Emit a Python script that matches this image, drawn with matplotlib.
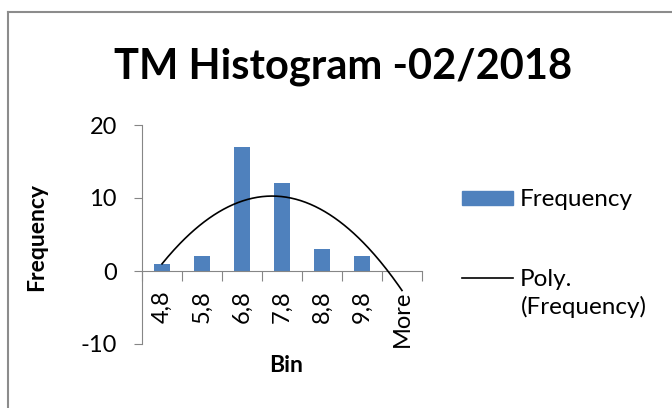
import matplotlib
matplotlib.use("Agg")
import matplotlib.pyplot as plt
from matplotlib.lines import Line2D
from matplotlib.patches import Patch
import numpy as np

plt.rcParams["font.family"] = ["Lato", "DejaVu Sans"]
plt.rcParams["axes.unicode_minus"] = False  # plain hyphen like Excel

bins = ["4,8", "5,8", "6,8", "7,8", "8,8", "9,8", "More"]
frequency = [1, 2, 17, 12, 3, 2, 0]

x = np.arange(1, len(bins) + 1)

fig = plt.figure(figsize=(6.72, 4.08), dpi=100)
ax = fig.add_axes([142 / 672, 1 - 344 / 408, 280 / 672, 219 / 408])

ax.bar(x, frequency, width=0.4, color="#4F81BD", zorder=2)

# Excel style order-2 polynomial trendline
coef = np.polyfit(x, frequency, 2)
xs = np.linspace(x[0], x[-1], 200)
ax.plot(xs, np.polyval(coef, xs), color="black", lw=1.2, zorder=3)

ax.set_xlim(0.5, len(bins) + 0.5)
ax.set_ylim(-10, 20)
ax.set_yticks([-10, 0, 10, 20])

# category boundaries as tick marks, labels at centres
ax.set_xticks(np.arange(0.5, len(bins) + 1, 1))
ax.set_xticklabels([])
ax.set_xticks(x, bins, minor=True)
ax.tick_params(axis="x", which="major", length=7, color="#868686", direction="out")
ax.tick_params(axis="x", which="minor", length=0, pad=14, labelrotation=90, labelsize=17)
ax.tick_params(axis="y", length=6, color="#868686", labelsize=17, pad=12)

for s in ["top", "right"]:
    ax.spines[s].set_visible(False)
ax.spines["left"].set_color("#868686")
ax.spines["bottom"].set_color("#868686")
ax.spines["bottom"].set_position(("data", 0))

fig.text(343 / 672, 1 - 78 / 408, "TM Histogram -02/2018", ha="center", va="baseline",
         fontsize=30, fontweight="bold")
fig.text(37 / 672, 1 - 237 / 408, "Frequency", rotation=90, ha="center", va="center",
         fontsize=16.5, fontweight="bold")
fig.text(286 / 672, 1 - 366 / 408, "Bin", ha="center", va="center",
         fontsize=16.5, fontweight="bold")

# legend: the trendline label wraps onto a second line below the handle
handles = [Patch(color="#4F81BD"), Line2D([], [], color="black", lw=1.2)]
leg = fig.legend(handles, ["Frequency", "Poly."], loc="upper left",
                 bbox_to_anchor=(443 / 672, 1 - 170 / 408), frameon=False, fontsize=17.5,
                 handlelength=2.1, handleheight=0.5, handletextpad=0.25, labelspacing=2.4,
                 borderpad=0.3)
fig.text(521 / 672, 1 - 307 / 408, "(Frequency)", ha="left", va="center", fontsize=17.5)

# grey chart border (clipped on the right and bottom)
fig.add_artist(Line2D([8 / 672, 8 / 672], [0, 1 - 12 / 408], color="#8c8c8c", lw=1.5,
                      transform=fig.transFigure))
fig.add_artist(Line2D([8 / 672, 1], [1 - 12 / 408, 1 - 12 / 408], color="#8c8c8c", lw=1.5,
                      transform=fig.transFigure))

fig.savefig("out.png", dpi=100)
